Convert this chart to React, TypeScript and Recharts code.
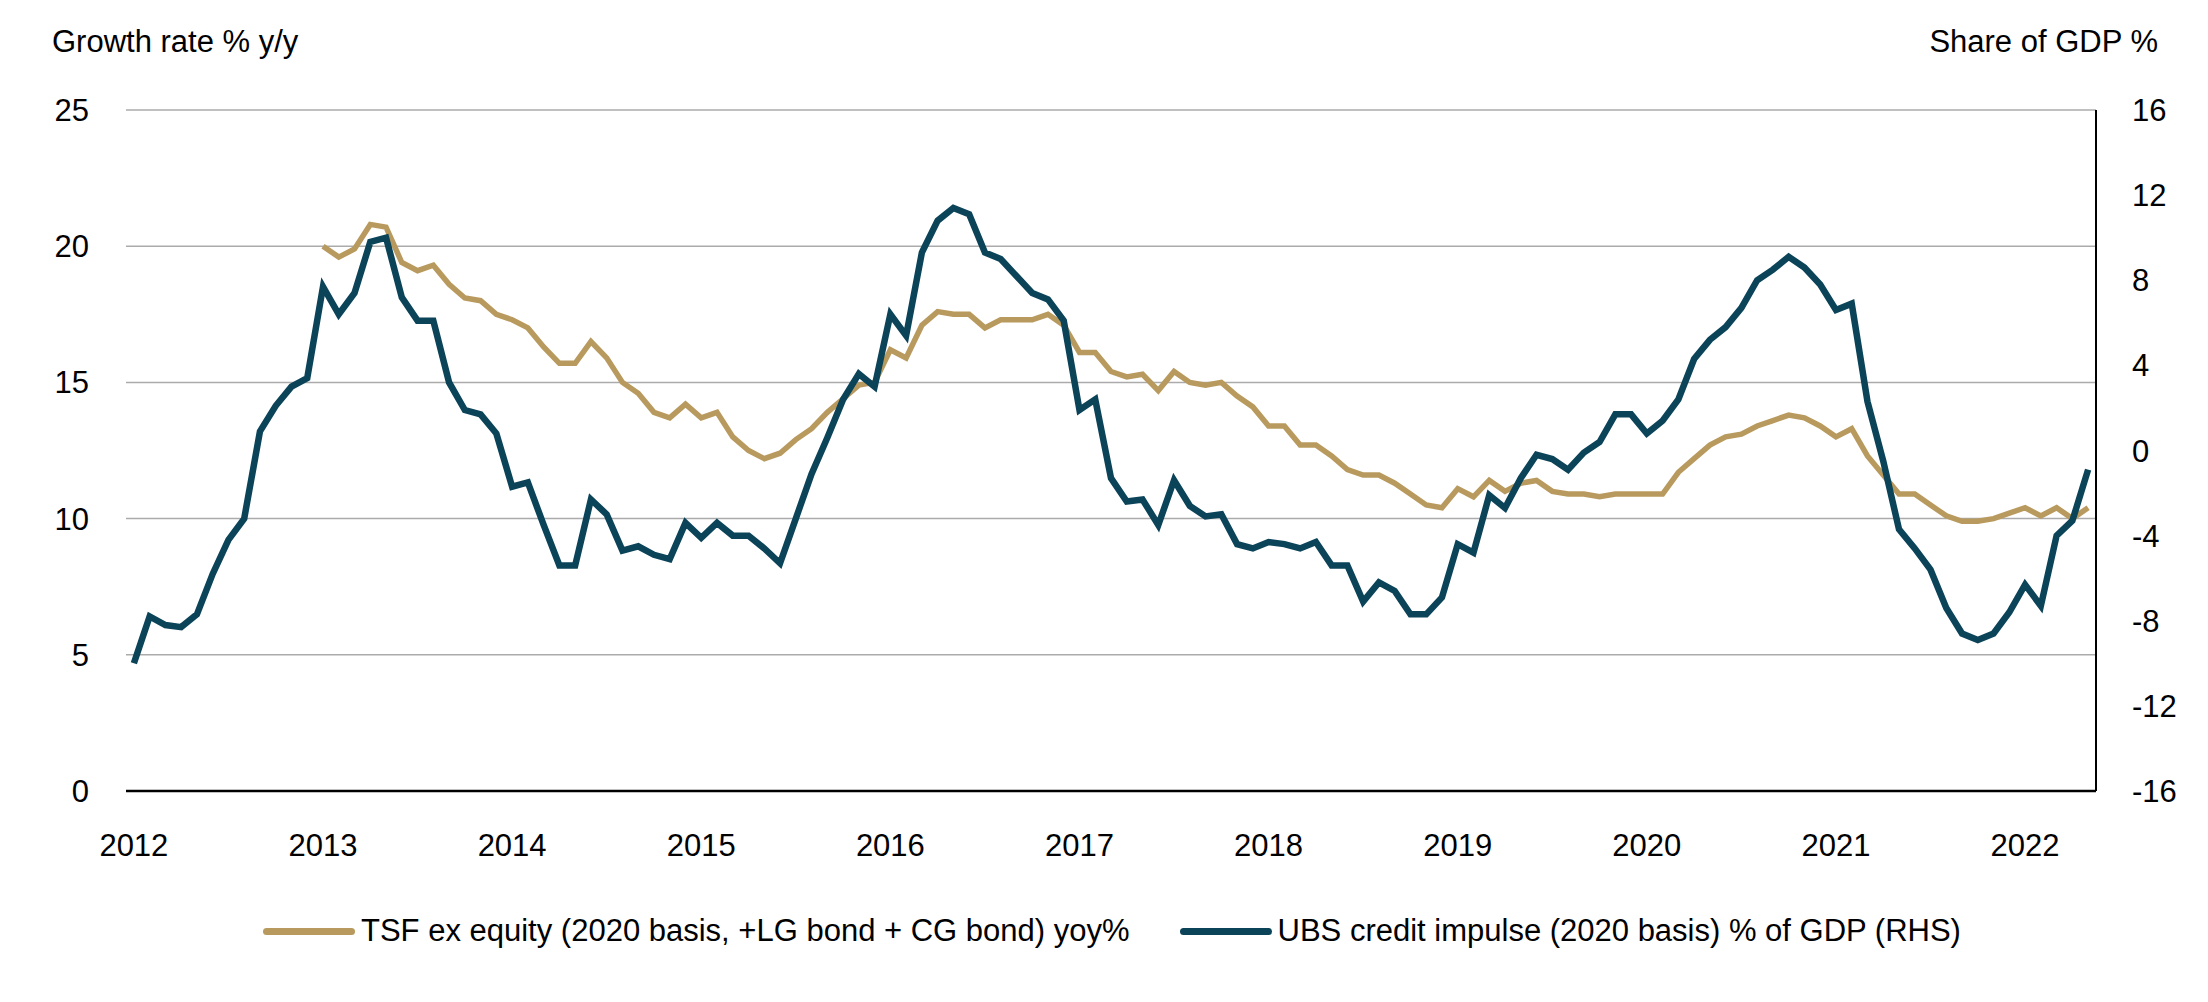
import { LineChart, Line, XAxis, YAxis, CartesianGrid } from 'recharts'

// monthly, Jan 2012 .. May 2022
const yearLabels = ['2012', '2013', '2014', '2015', '2016', '2017', '2018', '2019', '2020', '2021', '2022']

// UBS credit impulse (2020 basis) % of GDP, RHS — starts Jan 2012
const creditImpulse = [
  -10.0, -7.8, -8.2, -8.3, -7.7, -5.8, -4.2, -3.2, 0.9, 2.1, 3.0, 3.4,
  7.7, 6.4, 7.4, 9.8, 10.0, 7.2, 6.1, 6.1, 3.2, 1.9, 1.7, 0.8,
  -1.7, -1.5, -3.5, -5.4, -5.4, -2.3, -3.0, -4.7, -4.5, -4.9, -5.1, -3.4,
  -4.1, -3.4, -4.0, -4.0, -4.6, -5.3, -3.2, -1.1, 0.6, 2.4, 3.6, 3.0,
  6.4, 5.4, 9.3, 10.8, 11.4, 11.1, 9.3, 9.0, 8.2, 7.4, 7.1, 6.1,
  1.9, 2.4, -1.3, -2.4, -2.3, -3.5, -1.4, -2.6, -3.1, -3.0, -4.4, -4.6,
  -4.3, -4.4, -4.6, -4.3, -5.4, -5.4, -7.1, -6.2, -6.6, -7.7, -7.7, -6.9,
  -4.4, -4.8, -2.1, -2.7, -1.3, -0.2, -0.4, -0.9, -0.1, 0.4, 1.7, 1.7,
  0.8, 1.4, 2.4, 4.3, 5.2, 5.8, 6.7, 8.0, 8.5, 9.1, 8.6, 7.8,
  6.6, 6.9, 2.3, -0.5, -3.7, -4.6, -5.6, -7.4, -8.6, -8.9, -8.6, -7.6,
  -6.3, -7.3, -4.0, -3.3, -0.9,
]

// TSF ex equity yoy% — starts Jan 2013
const tsfStart = 12
const tsfGrowth = [
  20.0, 19.6, 19.9, 20.8, 20.7, 19.4, 19.1, 19.3, 18.6, 18.1, 18.0, 17.5,
  17.3, 17.0, 16.3, 15.7, 15.7, 16.5, 15.9, 15.0, 14.6, 13.9, 13.7, 14.2,
  13.7, 13.9, 13.0, 12.5, 12.2, 12.4, 12.9, 13.3, 13.9, 14.4, 14.9, 15.0,
  16.2, 15.9, 17.1, 17.6, 17.5, 17.5, 17.0, 17.3, 17.3, 17.3, 17.5, 17.1,
  16.1, 16.1, 15.4, 15.2, 15.3, 14.7, 15.4, 15.0, 14.9, 15.0, 14.5, 14.1,
  13.4, 13.4, 12.7, 12.7, 12.3, 11.8, 11.6, 11.6, 11.3, 10.9, 10.5, 10.4,
  11.1, 10.8, 11.4, 11.0, 11.3, 11.4, 11.0, 10.9, 10.9, 10.8, 10.9, 10.9,
  10.9, 10.9, 11.7, 12.2, 12.7, 13.0, 13.1, 13.4, 13.6, 13.8, 13.7, 13.4,
  13.0, 13.3, 12.3, 11.6, 10.9, 10.9, 10.5, 10.1, 9.9, 9.9, 10.0, 10.2,
  10.4, 10.1, 10.4, 10.0, 10.4,
]

const leftTicks = [0, 5, 10, 15, 20, 25]
const rightTicks = [-16, -12, -8, -4, 0, 4, 8, 12, 16]

const TAN = '#B99A5E'
const NAVY = '#0B4359'
const FONT = '"Liberation Sans", Arial, sans-serif'

const data = creditImpulse.map((v, i) => ({
  m: i,
  impulse: v,
  tsf: i >= tsfStart ? tsfGrowth[i - tsfStart] : null,
}))

const tickStyle = { fontSize: 31, fontFamily: FONT, fill: '#000' }

export default function App() {
  return (
    <div style={{ position: 'absolute', left: 0, top: 0, width: 2208, height: 1002, background: '#fff', fontFamily: FONT }}>
      <div style={{ position: 'absolute', left: 52, top: 24, fontSize: 31, color: '#000', whiteSpace: 'nowrap' }}>
        Growth rate % y/y
      </div>
      <div style={{ position: 'absolute', right: 2208 - 2158, top: 24, fontSize: 31, color: '#000', whiteSpace: 'nowrap' }}>
        Share of GDP %
      </div>

      <LineChart
        width={2208}
        height={1002}
        data={data}
        margin={{ top: 110, right: 12, bottom: 151, left: 46 }}
      >
        <CartesianGrid yAxisId="left" vertical={false} stroke="#ABABAB" strokeWidth={1.5} />
        <XAxis
          dataKey="m"
          type="number"
          domain={[-0.5, 124.5]}
          ticks={yearLabels.map((_, i) => i * 12)}
          tickFormatter={(v: number) => yearLabels[v / 12]}
          tick={tickStyle}
          tickLine={false}
          tickSize={0}
          tickMargin={43}
          height={60}
          axisLine={{ stroke: '#000', strokeWidth: 2.5 }}
        />
        <YAxis
          yAxisId="left"
          domain={[0, 25]}
          ticks={leftTicks}
          tick={tickStyle}
          tickLine={false}
          tickSize={0}
          tickMargin={37}
          axisLine={false}
          width={80}
        />
        <YAxis
          yAxisId="right"
          orientation="right"
          domain={[-16, 16]}
          ticks={rightTicks}
          tick={{ ...tickStyle, textAnchor: 'start' }}
          tickLine={false}
          tickSize={0}
          tickMargin={36}
          axisLine={{ stroke: '#000', strokeWidth: 2 }}
          width={100}
        />
        <Line
          yAxisId="left"
          dataKey="tsf"
          stroke={TAN}
          strokeWidth={5.5}
          dot={false}
          isAnimationActive={false}
        />
        <Line
          yAxisId="right"
          dataKey="impulse"
          stroke={NAVY}
          strokeWidth={6.5}
          dot={false}
          isAnimationActive={false}
        />
      </LineChart>

      {/* legend */}
      <div style={{ position: 'absolute', left: 263, top: 913, display: 'flex', alignItems: 'center', fontSize: 31, color: '#000', whiteSpace: 'nowrap' }}>
        <span style={{ display: 'inline-block', width: 92, height: 7, borderRadius: 4, background: TAN, marginRight: 6 }} />
        <span>TSF ex equity (2020 basis, +LG bond + CG bond) yoy%</span>
        <span style={{ display: 'inline-block', width: 92, height: 7, borderRadius: 4, background: NAVY, marginLeft: 50, marginRight: 6 }} />
        <span>UBS credit impulse (2020 basis) % of GDP (RHS)</span>
      </div>
    </div>
  )
}
